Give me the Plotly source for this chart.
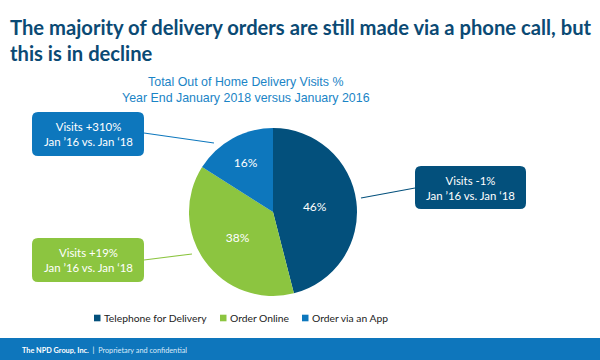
import plotly.graph_objects as go

# ---- data ----
labels = ["Telephone for Delivery", "Order Online", "Order via an App"]
shares = [46, 38, 16]
changes = ["Visits -1%", "Visits +19%", "Visits +310%"]
period = "Jan \u201916 vs. Jan \u201818"
colors = ["#03507C", "#8CC540", "#0D77BD"]

title_lines = ["The majority of delivery orders are still made via a phone call, but",
               "this is in decline"]
subtitle_lines = ["Total Out of Home Delivery Visits %",
                  "Year End January 2018 versus January 2016"]
footer_bold = "The NPD Group, Inc."
footer_rest = "Proprietary and confidential"

W, H = 600, 360

def px(x):
    return x / W

def py(y):
    return 1 - y / H

fig = go.Figure()
fig.add_trace(go.Pie(
    labels=labels, values=shares, sort=False, direction="clockwise", rotation=0,
    marker=dict(colors=colors, line=dict(width=0)),
    texttemplate="%{value}%", textposition="inside", insidetextorientation="horizontal",
    textfont=dict(family="Lato", size=12, color="white"),
    domain=dict(x=[px(189), px(357)], y=[py(296), py(128)]),
    showlegend=False, hoverinfo="label+percent",
))

shapes = []
annotations = []

# title
annotations.append(dict(x=px(8), y=py(13), xref="paper", yref="paper", xanchor="left", yanchor="top",
                        text="<br>".join(f"<b>{t}</b>" for t in title_lines), showarrow=False, align="left",
                        font=dict(family="Lato", size=20.2, color="#0B4A74")))
# subtitle
annotations.append(dict(x=px(246), y=py(73), xref="paper", yref="paper", xanchor="center", yanchor="top",
                        text="<br>".join(subtitle_lines), showarrow=False, align="center",
                        font=dict(family="Liberation Sans", size=12.4, color="#1A84C6")))

def rrect(x0, y0, x1, y1, r, color):
    p = (f"M {px(x0+r)},{py(y0)} L {px(x1-r)},{py(y0)} Q {px(x1)},{py(y0)} {px(x1)},{py(y0+r)} "
         f"L {px(x1)},{py(y1-r)} Q {px(x1)},{py(y1)} {px(x1-r)},{py(y1)} "
         f"L {px(x0+r)},{py(y1)} Q {px(x0)},{py(y1)} {px(x0)},{py(y1-r)} "
         f"L {px(x0)},{py(y0+r)} Q {px(x0)},{py(y0)} {px(x0+r)},{py(y0)} Z")
    return dict(type="path", path=p, xref="paper", yref="paper", fillcolor=color,
                line=dict(width=0), layer="above")

# callouts: box (x0,y0,x1,y1), connector line (from box edge to pie)
callouts = [
    ((415, 166, 526, 209), (415, 188, 361, 198)),
    ((32, 238, 144, 282), (144, 260, 192, 254)),
    ((32, 112, 144, 156), (144, 133, 214, 143)),
]
for i, (box, ln) in enumerate(callouts):
    x0, y0, x1, y1 = box
    shapes.append(dict(type="line", xref="paper", yref="paper",
                       x0=px(ln[0]), y0=py(ln[1]), x1=px(ln[2]), y1=py(ln[3]),
                       line=dict(color=colors[i], width=1.2)))
    shapes.append(rrect(x0, y0, x1, y1, 6, colors[i]))
    annotations.append(dict(x=px((x0 + x1) / 2), y=py((y0 + y1) / 2), xref="paper", yref="paper",
                            xanchor="center", yanchor="middle", showarrow=False, align="center",
                            text=f"{changes[i]}<br>{period}",
                            font=dict(family="Lato", size=11.4, color="white")))

# legend (manual)
leg_x = [94, 220, 302]
leg_y = 318
for i, lab in enumerate(labels):
    shapes.append(dict(type="rect", xref="paper", yref="paper",
                       x0=px(leg_x[i]), x1=px(leg_x[i] + 6.5), y0=py(leg_y - 3.3), y1=py(leg_y + 3.3),
                       fillcolor=colors[i], line=dict(width=0)))
    annotations.append(dict(x=px(leg_x[i] + 7.5), y=py(leg_y), xref="paper", yref="paper",
                            xanchor="left", yanchor="middle", showarrow=False, text=lab,
                            font=dict(family="Lato", size=10.3, color="#222222")))

# footer
shapes.append(dict(type="rect", xref="paper", yref="paper", x0=0, x1=1, y0=0, y1=py(338),
                   fillcolor="#0E76BC", line=dict(width=0), layer="below"))
annotations.append(dict(x=px(20), y=py(350), xref="paper", yref="paper", xanchor="left", yanchor="middle",
                        showarrow=False,
                        text=f"<b>{footer_bold}</b>  |  <span style='color:#DCEBFA'>{footer_rest}</span>",
                        font=dict(family="Lato", size=7.3, color="white")))

fig.update_layout(width=W, height=H, margin=dict(l=0, r=0, t=0, b=0),
                  paper_bgcolor="white", plot_bgcolor="white",
                  shapes=shapes, annotations=annotations, showlegend=False)

fig.write_html("out.html", config={"displayModeBar": False},
               post_script="document.body.style.margin='0px';")
